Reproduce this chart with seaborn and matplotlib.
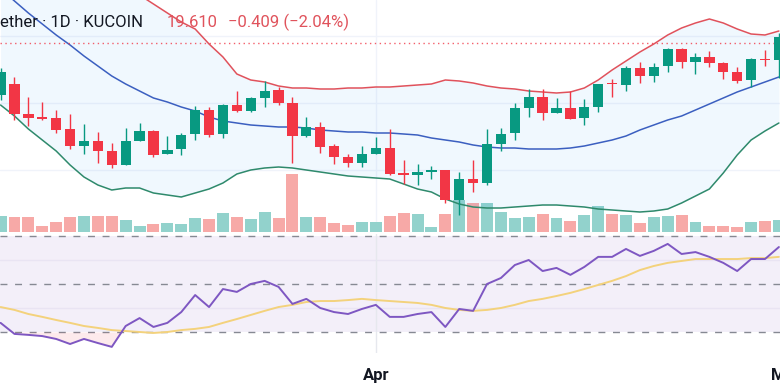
import matplotlib
matplotlib.use("Agg")
import matplotlib.pyplot as plt
import matplotlib.dates as mdates
import matplotlib.transforms as mtransforms
import numpy as np
import pandas as pd
import seaborn as sns

# daily candles, 5 Mar .. 30 Apr
dates = pd.date_range("2024-03-05", periods=57, freq="D")

open_ = [17.00, 17.55, 16.05, 15.90, 15.85, 15.30, 14.45, 14.70, 14.20, 13.50,
         14.70, 15.20, 14.05, 14.30, 15.05, 16.25, 15.05, 16.50, 16.20, 16.85,
         17.25, 16.60, 14.95, 15.40, 14.45, 13.90, 13.60, 14.05, 14.35, 13.10,
         13.00, 13.15, 13.25, 11.75, 12.80, 12.60, 14.55, 15.10, 16.35, 16.90,
         16.10, 16.35, 15.85, 16.40, 17.60, 17.50, 18.35, 17.95, 18.45, 19.30,
         18.65, 18.90, 18.60, 18.15, 17.75, 18.80, 18.75]
high = [18.35, 17.90, 16.90, 16.65, 16.25, 16.05, 15.55, 15.15, 14.60, 15.35,
        15.60, 15.25, 14.95, 15.10, 16.45, 16.40, 16.55, 17.20, 16.90, 17.70,
        17.40, 16.90, 15.90, 15.65, 14.55, 14.05, 14.45, 14.90, 15.30, 13.75,
        13.55, 13.45, 13.25, 13.15, 13.75, 15.30, 15.35, 16.60, 17.30, 17.30,
        16.85, 17.20, 16.80, 17.55, 17.80, 18.45, 18.65, 18.60, 19.35, 19.35,
        19.10, 19.20, 18.65, 18.40, 18.85, 19.25, 20.10]
low = [16.75, 15.75, 15.45, 15.75, 15.10, 14.30, 14.05, 13.60, 13.35, 13.50,
       14.70, 13.90, 14.05, 14.00, 14.75, 14.90, 14.85, 16.15, 16.15, 16.40,
       16.50, 13.60, 14.90, 14.10, 13.55, 13.40, 13.40, 14.05, 13.00, 12.55,
       12.50, 12.80, 11.60, 11.00, 12.15, 12.50, 14.20, 14.75, 15.90, 15.75,
       16.10, 15.80, 15.50, 16.15, 16.90, 17.20, 17.60, 17.65, 18.15, 18.35,
       18.05, 18.40, 17.80, 17.60, 17.40, 18.45, 17.85]
close = [18.15, 16.05, 15.85, 15.80, 15.25, 14.45, 14.70, 14.20, 13.50, 14.70,
         15.20, 14.00, 14.25, 15.00, 16.25, 15.00, 16.50, 16.20, 16.85, 17.20,
         16.60, 14.95, 15.40, 14.40, 13.90, 13.60, 14.05, 14.35, 13.05, 13.00,
         13.15, 13.25, 11.75, 12.80, 12.60, 14.55, 15.05, 16.35, 16.90, 16.10,
         16.35, 15.80, 16.40, 17.55, 17.55, 18.35, 17.95, 18.40, 19.30, 18.65,
         18.90, 18.60, 18.15, 17.70, 18.80, 18.75, 19.90]
volume = [160, 150, 150, 60, 100, 150, 160, 160, 160, 120,
          60, 80, 90, 80, 140, 130, 190, 150, 130, 200,
          140, 580, 150, 150, 90, 70, 100, 100, 160, 190,
          180, 50, 180, 320, 290, 290, 200, 140, 150, 180,
          140, 110, 170, 260, 180, 170, 90, 150, 160, 170,
          100, 60, 60, 50, 100, 110, 120]

bb_upper = [23.85, 23.80, 23.75, 23.65, 23.55, 23.40, 23.20, 22.95, 22.65, 22.35,
            22.00, 21.55, 21.10, 20.65, 20.30, 19.55, 18.90, 18.05, 17.75, 17.65,
            17.45, 17.35, 17.35, 17.30, 17.30, 17.35, 17.35, 17.40, 17.40, 17.45,
            17.50, 17.55, 17.75, 17.70, 17.60, 17.45, 17.35, 17.30, 17.20, 17.15,
            17.10, 17.15, 17.35, 17.75, 18.25, 18.70, 19.15, 19.55, 20.00, 20.35,
            20.60, 20.80, 20.60, 20.30, 20.05, 20.00, 20.20]
bb_basis = [22.30, 21.70, 21.10, 20.55, 20.00, 19.50, 18.95, 18.45, 17.95, 17.55,
            17.20, 16.85, 16.65, 16.40, 16.20, 15.90, 15.70, 15.60, 15.50, 15.45,
            15.40, 15.40, 15.35, 15.25, 15.20, 15.15, 15.15, 15.10, 15.10, 15.05,
            15.00, 14.85, 14.75, 14.65, 14.50, 14.40, 14.35, 14.35, 14.30, 14.30,
            14.30, 14.35, 14.45, 14.60, 14.75, 14.95, 15.25, 15.50, 15.75, 15.95,
            16.25, 16.55, 16.85, 17.15, 17.40, 17.65, 17.90]
bb_lower = [16.50, 15.95, 15.30, 14.75, 14.20, 13.50, 12.90, 12.50, 12.25, 12.35,
            12.35, 12.10, 12.00, 11.90, 12.10, 12.30, 12.60, 13.05, 13.25, 13.35,
            13.40, 13.35, 13.25, 13.15, 13.05, 12.95, 12.90, 12.85, 12.80, 12.55,
            12.30, 12.15, 11.80, 11.55, 11.40, 11.35, 11.35, 11.40, 11.45, 11.50,
            11.50, 11.45, 11.40, 11.30, 11.25, 11.20, 11.15, 11.20, 11.30, 11.60,
            11.95, 12.30, 13.10, 14.00, 14.75, 15.20, 15.60]

rsi = [33.8, 29.2, 28.8, 28.3, 27.1, 25.0, 27.1, 25.4, 23.8, 32.5,
       35.8, 32.1, 33.8, 38.3, 45.4, 40.4, 47.9, 46.7, 50.0, 51.3,
       48.8, 41.7, 43.8, 40.0, 38.3, 37.5, 39.6, 41.3, 36.3, 36.3,
       37.5, 38.3, 32.1, 39.6, 38.8, 50.0, 52.5, 57.9, 60.0, 55.4,
       56.7, 53.8, 57.1, 61.3, 61.3, 64.6, 61.7, 63.8, 66.7, 62.5,
       63.3, 61.3, 58.8, 55.4, 60.4, 60.4, 65.4]
rsi_ma = [40.4, 39.2, 37.5, 36.3, 35.0, 33.8, 32.5, 31.7, 30.8, 30.4,
          30.0, 29.6, 30.0, 30.8, 31.3, 32.1, 33.8, 35.4, 37.1, 38.8,
          40.4, 41.3, 42.5, 42.9, 42.9, 43.3, 43.8, 43.3, 42.9, 42.5,
          42.1, 41.3, 40.0, 39.2, 38.8, 39.2, 40.0, 41.3, 42.9, 43.8,
          45.0, 46.3, 47.9, 49.6, 51.3, 53.3, 55.8, 57.5, 58.8, 59.6,
          60.4, 60.4, 60.4, 60.4, 60.8, 60.8, 61.3]

last_price = 19.61
header = "ether · 1D · KUCOIN"
price_txt = "19.610"
change_txt = "\u22120.409 (\u22122.04%)"
month_ticks = ["2024-04-01", "2024-05-01"]
month_labels = ["Apr", "May"]

GREEN = "#089981"
RED = "#f23645"
GRID = "#f0f3fa"

sns.set_style("white")
plt.rcParams["font.family"] = ["Roboto", "DejaVu Sans"]

W, H = 780, 388
fig = plt.figure(figsize=(W / 100, H / 100), dpi=100)
# price pane (volume underneath), rsi pane below
ax_vol = fig.add_axes([0, 1 - 232 / H, 1, 232 / H])
ax = fig.add_axes([0, 1 - 232 / H, 1, 232 / H], sharex=ax_vol)
ax_rsi = fig.add_axes([0, 1 - 353 / H, 1, (353 - 234) / H], sharex=ax_vol)
ax.patch.set_visible(False)

o = np.array(open_)
c = np.array(close)
up = c >= o
candle_colors = np.where(up, GREEN, RED)
vol_colors = np.where(up, "#92d2cc", "#f7a9a7")

# volume
ax_vol.bar(dates, volume, width=0.86, color=vol_colors, linewidth=0, zorder=2)
ax_vol.set_ylim(0, 2320)
ax_vol.grid(axis="x", color=GRID, linewidth=1, zorder=0)

# bollinger bands
ax.fill_between(dates, bb_lower, bb_upper, color="#2196f3", alpha=0.065, linewidth=0, zorder=1)
sns.lineplot(x=dates, y=bb_upper, ax=ax, color="#e0525c", linewidth=1.1, zorder=2)
sns.lineplot(x=dates, y=bb_basis, ax=ax, color="#3b5fc0", linewidth=1.1, zorder=2)
sns.lineplot(x=dates, y=bb_lower, ax=ax, color="#2f8a6c", linewidth=1.1, zorder=2)
for lvl in (19.95, 16.60, 13.25):
    ax.axhline(lvl, color=GRID, linewidth=1, zorder=0)

# candles
ax.vlines(dates, low, high, colors=candle_colors, linewidth=1.0, zorder=3)
ax.bar(dates, np.maximum(np.abs(c - o), 0.06), bottom=np.minimum(o, c), width=0.74,
       color=candle_colors, linewidth=0, zorder=4)
ax.axhline(last_price, color=RED, linewidth=1, linestyle=(0, (1, 2.5)), alpha=0.8, zorder=2)
ax.set_ylim(10.15, 21.75)

# rsi
rsi_arr = np.array(rsi)
ax_rsi.axhspan(30, 70, color="#7e57c2", alpha=0.09, linewidth=0, zorder=0)
for lvl in (40, 60):
    ax_rsi.axhline(lvl, color="#e9e4f3", linewidth=1, zorder=0.5)
ax_rsi.grid(axis="x", color="#e6e8ee", linewidth=1, zorder=0.5)
for lvl in (70, 50, 30):
    ax_rsi.axhline(lvl, color="#868993", linewidth=1, linestyle=(0, (5, 5.5)), zorder=1)
ax_rsi.fill_between(dates, rsi_arr, 30, where=rsi_arr < 30, interpolate=True,
                    color=RED, alpha=0.1, linewidth=0, zorder=1)
sns.lineplot(x=dates, y=rsi_ma, ax=ax_rsi, color="#f3d27c", linewidth=1.4, zorder=2)
sns.lineplot(x=dates, y=rsi, ax=ax_rsi, color="#7e57c2", linewidth=1.4, zorder=3)
ax_rsi.set_ylim(21.25, 70.83)

ax.set_xlim(dates[0] - pd.Timedelta(hours=1), dates[0] + pd.Timedelta(days=56.08))
ax_rsi.set_xticks([pd.Timestamp(month_ticks[0])])
ax_rsi.set_xticklabels([])

tick_font = dict(fontsize=12, fontweight="bold", color="#131722")
trans = mtransforms.blended_transform_factory(ax_rsi.transData, ax_rsi.transAxes)
# the May label sits partly past the right edge, as in the screenshot
nudge = [0, -6]
for d, lab, dx in zip(month_ticks, month_labels, nudge):
    t = trans + mtransforms.ScaledTranslation(dx / 100, 0, fig.dpi_scale_trans)
    ax_rsi.text(mdates.date2num(pd.Timestamp(d)), -0.13, lab, transform=t,
                ha="center", va="top", clip_on=False, **tick_font)

for a in (ax_vol, ax, ax_rsi):
    for s in a.spines.values():
        s.set_visible(False)
    a.tick_params(length=0, labelleft=False, labelbottom=False)
    a.set_xlabel("")
    a.set_ylabel("")
    a.set_yticks([])

# legend header
ty = 1 - 27 / H
fig.text(0, ty, header, fontsize=12, color="#131722", va="baseline")
fig.text(167 / W, ty, price_txt, fontsize=12, color="#e0535c", va="baseline")
fig.text(228 / W, ty, change_txt, fontsize=12, color="#e0535c", va="baseline")

fig.savefig("out.png", dpi=100)
